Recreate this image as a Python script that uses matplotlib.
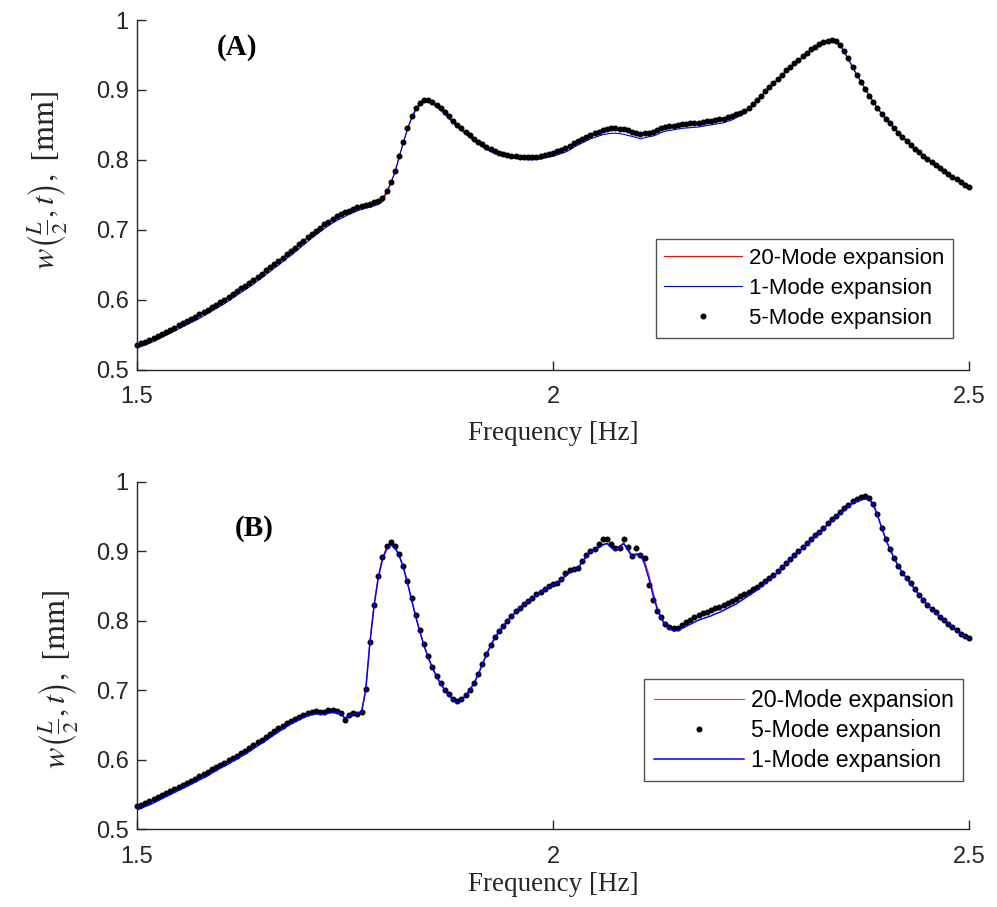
import numpy as np
import matplotlib
matplotlib.use("Agg")
from matplotlib import pyplot as plt

# barrido de frecuencia, cada 0.005 Hz
freq = np.linspace(1.5, 2.5, 201)

# ---------------- panel (A) ----------------
modo5_a = [
    0.535, 0.5375, 0.540, 0.5425, 0.545, 0.548, 0.551, 0.554, 0.557, 0.560,
    0.563, 0.566, 0.569, 0.572, 0.5755, 0.579, 0.582, 0.5855, 0.589, 0.5925,
    0.596, 0.600, 0.604, 0.608, 0.612, 0.616, 0.620, 0.624, 0.628, 0.633,
    0.637, 0.642, 0.646, 0.651, 0.655, 0.660, 0.665, 0.669, 0.674, 0.679,
    0.684, 0.689, 0.694, 0.6985, 0.703, 0.7075, 0.7115, 0.7155, 0.719, 0.722,
    0.725, 0.7275, 0.730, 0.732, 0.734, 0.7355, 0.737, 0.739, 0.741, 0.745,
    0.756, 0.768, 0.784, 0.805, 0.826, 0.845, 0.862, 0.874, 0.882, 0.886,
    0.886, 0.883, 0.879, 0.874, 0.868, 0.862, 0.856, 0.850, 0.845, 0.840,
    0.835, 0.830, 0.826, 0.822, 0.818, 0.815, 0.812, 0.810, 0.8085, 0.807,
    0.806, 0.805, 0.8045, 0.804, 0.8035, 0.8035, 0.804, 0.805, 0.807, 0.808,
    0.810, 0.812, 0.814, 0.817, 0.820, 0.824, 0.827, 0.830, 0.833, 0.836,
    0.838, 0.840, 0.842, 0.8435, 0.845, 0.845, 0.8445, 0.8435, 0.842, 0.8405,
    0.839, 0.8365, 0.838, 0.839, 0.840, 0.843, 0.846, 0.847, 0.848, 0.849,
    0.850, 0.851, 0.8515, 0.852, 0.8525, 0.853, 0.854, 0.855, 0.856, 0.857,
    0.858, 0.859, 0.861, 0.8625, 0.865, 0.867, 0.870, 0.874, 0.880, 0.886,
    0.892, 0.898, 0.904, 0.910, 0.916, 0.922, 0.928, 0.933, 0.938, 0.943,
    0.948, 0.953, 0.958, 0.962, 0.9655, 0.968, 0.970, 0.971, 0.970, 0.965,
    0.956, 0.945, 0.933, 0.922, 0.912, 0.902, 0.892, 0.883, 0.874, 0.866,
    0.859, 0.852, 0.845, 0.839, 0.833, 0.827, 0.821, 0.816, 0.811, 0.806,
    0.801, 0.797, 0.7925, 0.788, 0.784, 0.780, 0.776, 0.772, 0.768, 0.7645,
    0.761]

modo20_a = [
    0.535, 0.5375, 0.540, 0.5425, 0.545, 0.548, 0.551, 0.554, 0.557, 0.560,
    0.563, 0.566, 0.569, 0.572, 0.5755, 0.579, 0.582, 0.5855, 0.589, 0.5925,
    0.596, 0.600, 0.604, 0.608, 0.612, 0.616, 0.620, 0.624, 0.628, 0.633,
    0.637, 0.642, 0.646, 0.651, 0.655, 0.660, 0.665, 0.669, 0.674, 0.679,
    0.684, 0.689, 0.694, 0.6985, 0.703, 0.7075, 0.7115, 0.7155, 0.719, 0.722,
    0.725, 0.7275, 0.730, 0.732, 0.734, 0.7355, 0.737, 0.739, 0.741, 0.745,
    0.755, 0.767, 0.783, 0.804, 0.825, 0.844, 0.861, 0.873, 0.881, 0.885,
    0.885, 0.882, 0.878, 0.873, 0.867, 0.861, 0.855, 0.849, 0.844, 0.839,
    0.834, 0.829, 0.825, 0.821, 0.817, 0.814, 0.811, 0.809, 0.8075, 0.806,
    0.805, 0.804, 0.8035, 0.803, 0.8025, 0.8025, 0.803, 0.804, 0.806, 0.807,
    0.809, 0.811, 0.813, 0.816, 0.819, 0.823, 0.826, 0.829, 0.832, 0.835,
    0.837, 0.839, 0.841, 0.8425, 0.844, 0.844, 0.8435, 0.8425, 0.841, 0.8395,
    0.838, 0.8355, 0.837, 0.838, 0.839, 0.842, 0.845, 0.846, 0.847, 0.848,
    0.849, 0.850, 0.8505, 0.851, 0.8515, 0.852, 0.853, 0.854, 0.855, 0.856,
    0.857, 0.858, 0.860, 0.8615, 0.864, 0.866, 0.869, 0.873, 0.879, 0.885,
    0.891, 0.897, 0.903, 0.909, 0.915, 0.921, 0.927, 0.932, 0.937, 0.942,
    0.947, 0.952, 0.957, 0.961, 0.9645, 0.967, 0.969, 0.970, 0.969, 0.964,
    0.955, 0.944, 0.933, 0.922, 0.912, 0.902, 0.892, 0.883, 0.874, 0.866,
    0.859, 0.852, 0.845, 0.839, 0.833, 0.827, 0.821, 0.816, 0.811, 0.806,
    0.801, 0.797, 0.7925, 0.788, 0.784, 0.780, 0.776, 0.772, 0.768, 0.7645,
    0.761]

modo1_a = [
    0.531, 0.533, 0.535, 0.5375, 0.540, 0.543, 0.546, 0.549, 0.552, 0.555,
    0.558, 0.561, 0.564, 0.567, 0.570, 0.573, 0.5765, 0.580, 0.5835, 0.587,
    0.5905, 0.594, 0.598, 0.602, 0.606, 0.610, 0.614, 0.618, 0.622, 0.627,
    0.631, 0.636, 0.640, 0.645, 0.649, 0.654, 0.659, 0.663, 0.668, 0.673,
    0.678, 0.683, 0.688, 0.6925, 0.697, 0.7015, 0.7055, 0.7095, 0.713, 0.716,
    0.719, 0.722, 0.7245, 0.727, 0.729, 0.731, 0.732, 0.734, 0.736, 0.740,
    0.753, 0.766, 0.782, 0.803, 0.824, 0.843, 0.859, 0.871, 0.879, 0.883,
    0.883, 0.880, 0.876, 0.871, 0.865, 0.859, 0.853, 0.847, 0.842, 0.837,
    0.832, 0.827, 0.823, 0.819, 0.815, 0.812, 0.809, 0.807, 0.805, 0.804,
    0.803, 0.802, 0.801, 0.8005, 0.800, 0.800, 0.8005, 0.801, 0.803, 0.804,
    0.805, 0.807, 0.809, 0.811, 0.814, 0.818, 0.821, 0.824, 0.827, 0.830,
    0.832, 0.834, 0.836, 0.837, 0.838, 0.838, 0.8375, 0.8365, 0.835, 0.8335,
    0.832, 0.830, 0.8315, 0.833, 0.834, 0.836, 0.839, 0.841, 0.842, 0.843,
    0.844, 0.845, 0.8455, 0.846, 0.8465, 0.847, 0.848, 0.849, 0.850, 0.851,
    0.852, 0.853, 0.855, 0.857, 0.860, 0.863, 0.867, 0.872, 0.878, 0.885,
    0.891, 0.897, 0.903, 0.909, 0.915, 0.921, 0.926, 0.931, 0.936, 0.941,
    0.946, 0.951, 0.956, 0.960, 0.9635, 0.966, 0.968, 0.969, 0.968, 0.964,
    0.955, 0.944, 0.933, 0.922, 0.912, 0.902, 0.892, 0.883, 0.874, 0.866,
    0.859, 0.852, 0.845, 0.839, 0.833, 0.827, 0.821, 0.816, 0.811, 0.806,
    0.801, 0.797, 0.7925, 0.788, 0.784, 0.780, 0.776, 0.772, 0.768, 0.7645,
    0.761]

# ---------------- panel (B) ----------------
modo5_b = [
    0.533, 0.5355, 0.538, 0.541, 0.5435, 0.546, 0.549, 0.552, 0.555, 0.558,
    0.561, 0.564, 0.567, 0.570, 0.573, 0.576, 0.579, 0.582, 0.586, 0.589,
    0.593, 0.596, 0.599, 0.602, 0.606, 0.610, 0.613, 0.617, 0.621, 0.625,
    0.629, 0.633, 0.637, 0.641, 0.645, 0.649, 0.653, 0.656, 0.659, 0.662,
    0.664, 0.667, 0.669, 0.670, 0.669, 0.668, 0.671, 0.671, 0.670, 0.667,
    0.657, 0.664, 0.667, 0.666, 0.668, 0.702, 0.770, 0.823, 0.864, 0.891,
    0.907, 0.913, 0.908, 0.896, 0.879, 0.857, 0.832, 0.808, 0.786, 0.766,
    0.749, 0.733, 0.721, 0.710, 0.701, 0.694, 0.688, 0.684, 0.687, 0.693,
    0.701, 0.711, 0.723, 0.738, 0.752, 0.765, 0.776, 0.785, 0.793, 0.800,
    0.807, 0.814, 0.819, 0.824, 0.829, 0.833, 0.838, 0.842, 0.846, 0.850,
    0.853, 0.855, 0.860, 0.868, 0.873, 0.875, 0.876, 0.886, 0.894, 0.901,
    0.903, 0.910, 0.917, 0.917, 0.911, 0.905, 0.905, 0.918, 0.906, 0.893,
    0.905, 0.895, 0.890, 0.851, 0.830, 0.814, 0.805, 0.796, 0.791, 0.789,
    0.790, 0.794, 0.798, 0.801, 0.805, 0.808, 0.811, 0.813, 0.815, 0.818,
    0.820, 0.823, 0.826, 0.828, 0.831, 0.835, 0.838, 0.842, 0.846, 0.849,
    0.853, 0.857, 0.861, 0.866, 0.871, 0.877, 0.883, 0.889, 0.895, 0.901,
    0.906, 0.912, 0.917, 0.923, 0.928, 0.934, 0.940, 0.946, 0.951, 0.957,
    0.962, 0.967, 0.972, 0.975, 0.978, 0.979, 0.977, 0.968, 0.953, 0.934,
    0.917, 0.903, 0.890, 0.879, 0.869, 0.862, 0.854, 0.845, 0.837, 0.830,
    0.823, 0.817, 0.812, 0.806, 0.801, 0.796, 0.791, 0.786, 0.781, 0.778,
    0.775]

modo20_b = [
    0.532, 0.5345, 0.537, 0.540, 0.5425, 0.545, 0.548, 0.551, 0.554, 0.557,
    0.560, 0.563, 0.566, 0.569, 0.572, 0.575, 0.578, 0.581, 0.585, 0.588,
    0.592, 0.595, 0.598, 0.601, 0.605, 0.609, 0.612, 0.616, 0.620, 0.624,
    0.628, 0.632, 0.636, 0.640, 0.644, 0.648, 0.652, 0.655, 0.658, 0.661,
    0.663, 0.666, 0.668, 0.669, 0.668, 0.667, 0.670, 0.670, 0.669, 0.666,
    0.658, 0.664, 0.667, 0.667, 0.669, 0.702, 0.770, 0.823, 0.864, 0.890,
    0.906, 0.911, 0.907, 0.895, 0.878, 0.856, 0.831, 0.807, 0.785, 0.765,
    0.748, 0.733, 0.721, 0.710, 0.701, 0.693, 0.687, 0.683, 0.687, 0.693,
    0.701, 0.711, 0.723, 0.738, 0.752, 0.765, 0.776, 0.785, 0.793, 0.800,
    0.807, 0.813, 0.819, 0.824, 0.829, 0.833, 0.838, 0.842, 0.846, 0.850,
    0.853, 0.855, 0.860, 0.866, 0.871, 0.874, 0.876, 0.885, 0.893, 0.900,
    0.903, 0.907, 0.910, 0.912, 0.906, 0.903, 0.908, 0.912, 0.904, 0.895,
    0.897, 0.896, 0.886, 0.868, 0.843, 0.820, 0.805, 0.795, 0.790, 0.787,
    0.788, 0.792, 0.796, 0.799, 0.803, 0.806, 0.809, 0.811, 0.813, 0.816,
    0.818, 0.821, 0.824, 0.826, 0.829, 0.833, 0.836, 0.840, 0.844, 0.848,
    0.852, 0.856, 0.860, 0.865, 0.870, 0.876, 0.882, 0.888, 0.894, 0.900,
    0.905, 0.911, 0.916, 0.922, 0.927, 0.933, 0.939, 0.945, 0.950, 0.956,
    0.961, 0.966, 0.971, 0.974, 0.976, 0.977, 0.976, 0.967, 0.952, 0.934,
    0.917, 0.903, 0.890, 0.879, 0.869, 0.862, 0.854, 0.845, 0.837, 0.830,
    0.823, 0.817, 0.812, 0.806, 0.801, 0.796, 0.791, 0.786, 0.781, 0.778,
    0.775]

modo1_b = [
    0.528, 0.530, 0.533, 0.535, 0.538, 0.541, 0.544, 0.547, 0.550, 0.553,
    0.556, 0.559, 0.562, 0.565, 0.568, 0.571, 0.574, 0.577, 0.581, 0.584,
    0.588, 0.591, 0.594, 0.598, 0.601, 0.605, 0.608, 0.612, 0.616, 0.620,
    0.624, 0.628, 0.632, 0.636, 0.640, 0.644, 0.648, 0.652, 0.655, 0.658,
    0.661, 0.663, 0.665, 0.666, 0.666, 0.665, 0.667, 0.668, 0.668, 0.666,
    0.660, 0.664, 0.666, 0.667, 0.669, 0.701, 0.769, 0.822, 0.862, 0.888,
    0.903, 0.909, 0.905, 0.894, 0.877, 0.855, 0.830, 0.806, 0.784, 0.764,
    0.747, 0.732, 0.720, 0.709, 0.700, 0.692, 0.686, 0.682, 0.686, 0.692,
    0.700, 0.710, 0.722, 0.737, 0.751, 0.764, 0.775, 0.784, 0.792, 0.799,
    0.806, 0.812, 0.818, 0.823, 0.828, 0.832, 0.837, 0.841, 0.845, 0.849,
    0.852, 0.855, 0.859, 0.864, 0.869, 0.873, 0.876, 0.884, 0.892, 0.899,
    0.902, 0.905, 0.909, 0.911, 0.905, 0.901, 0.906, 0.911, 0.902, 0.892,
    0.895, 0.895, 0.882, 0.862, 0.838, 0.818, 0.803, 0.794, 0.789, 0.785,
    0.786, 0.789, 0.792, 0.795, 0.798, 0.801, 0.803, 0.805, 0.807, 0.810,
    0.812, 0.815, 0.818, 0.821, 0.824, 0.828, 0.832, 0.836, 0.840, 0.844,
    0.849, 0.854, 0.859, 0.864, 0.870, 0.876, 0.882, 0.888, 0.893, 0.899,
    0.904, 0.910, 0.915, 0.921, 0.926, 0.932, 0.938, 0.943, 0.949, 0.954,
    0.959, 0.964, 0.969, 0.972, 0.974, 0.975, 0.975, 0.967, 0.952, 0.934,
    0.917, 0.903, 0.890, 0.879, 0.869, 0.861, 0.853, 0.845, 0.837, 0.830,
    0.823, 0.817, 0.811, 0.806, 0.801, 0.796, 0.791, 0.786, 0.781, 0.777,
    0.775]

etiquetas = ['20-Mode expansion', '1-Mode expansion', '5-Mode expansion']

plt.rcParams['mathtext.fontset'] = 'stix'
sans = 'Liberation Sans'
serif = 'Liberation Serif'
negro = '#262626'

fig = plt.figure(figsize=(9.97, 9.07), dpi=100)
ax1 = fig.add_axes([0.1374, 0.5926, 0.8345, 0.3853])
ax2 = fig.add_axes([0.1374, 0.0857, 0.8345, 0.3832])


def estilo(ax, pad_x, ylab_pos):
    ax.set_xlim(1.5, 2.5)
    ax.set_ylim(0.5, 1.0)
    ax.set_xticks([1.5, 2.0, 2.5])
    ax.set_xticklabels(['1.5', '2', '2.5'], fontfamily=sans)
    ax.set_yticks([0.5, 0.6, 0.7, 0.8, 0.9, 1.0])
    ax.set_yticklabels(['0.5', '0.6', '0.7', '0.8', '0.9', '1'], fontfamily=sans)
    ax.spines['top'].set_visible(False)
    ax.spines['right'].set_visible(False)
    for s in ['left', 'bottom']:
        ax.spines[s].set_linewidth(1.0)
        ax.spines[s].set_color(negro)
    ax.tick_params(direction='in', length=6.5, width=1.0, labelsize=17,
                   colors=negro, labelcolor=negro)
    ax.tick_params(axis='x', pad=12)
    ax.tick_params(axis='y', pad=6)
    ax.set_xlabel('Frequency [Hz]', fontfamily=serif, fontsize=19.5,
                  color=negro, labelpad=pad_x)
    ax.set_ylabel(r'$w\left(\frac{L}{2},t\right),\ \mathrm{[mm]}$',
                  fontsize=23, color=negro)
    ax.yaxis.set_label_coords(*ylab_pos)


# panel (A): rojo, azul, puntos
l20, = ax1.plot(freq, modo20_a, color='red', lw=0.8)
l1, = ax1.plot(freq, modo1_a, color='blue', lw=0.8)
l5, = ax1.plot(freq, modo5_a, 'k.', ls='none', marker='o', ms=3.3, clip_on=False)
estilo(ax1, 9, (-0.08, 0.542))
ax1.text(1.62, 0.961, '(A)', fontfamily=serif, fontweight='bold', fontsize=21,
         ha='center', va='center')
leg = ax1.legend([l20, l1, l5], etiquetas, loc='lower right',
                 bbox_to_anchor=(0.981, 0.090), borderaxespad=0, numpoints=1,
                 prop={'family': sans, 'size': 16}, fancybox=False,
                 handlelength=3.5, handletextpad=0.3, labelspacing=0.42,
                 borderpad=0.4)
leg.get_frame().set_edgecolor(negro)
leg.get_frame().set_linewidth(1.0)

# panel (B): rojo, puntos, azul
m20, = ax2.plot(freq, modo20_b, color='#ff3030', lw=0.8)
m5, = ax2.plot(freq, modo5_b, 'k.', ls='none', marker='o', ms=3.3, clip_on=False)
m1, = ax2.plot(freq, modo1_b, color='blue', lw=1.1)
estilo(ax2, 3, (-0.067, 0.43))
ax2.text(1.641, 0.933, '(B)', fontfamily=serif, fontweight='bold', fontsize=21,
         ha='center', va='center')
leg2 = ax2.legend([m20, m5, m1], [etiquetas[0], etiquetas[2], etiquetas[1]],
                  loc='lower right', bbox_to_anchor=(0.993, 0.139),
                  borderaxespad=0, numpoints=1,
                  prop={'family': sans, 'size': 16.7}, fancybox=False,
                  handlelength=3.9, handletextpad=0.3, labelspacing=0.3,
                  borderpad=0.4)
leg2.get_frame().set_edgecolor(negro)
leg2.get_frame().set_linewidth(1.0)

fig.savefig('out.png', dpi=100)
